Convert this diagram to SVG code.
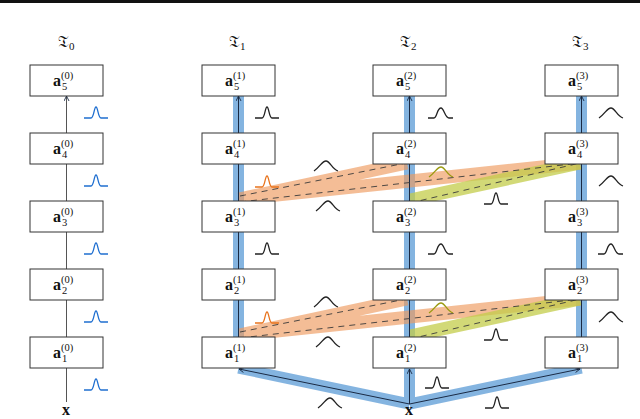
<svg xmlns="http://www.w3.org/2000/svg" width="640" height="419" viewBox="0 0 640 419">
<style>
.box{fill:#fff;stroke:#333;stroke-width:1}
.t{font-family:"Liberation Serif","DejaVu Serif",serif;fill:#111}
.a{font-size:16px;font-weight:bold}
.sup{font-size:10.5px}
.ln{stroke:#1a2a44;stroke-width:1;fill:none}
.ln0{stroke:#555;stroke-width:1;fill:none}
.bb{stroke:#5b9bd5;stroke-opacity:0.75;stroke-width:11;fill:none}
.ob{stroke:#ee9a5e;stroke-opacity:0.65;stroke-width:13;fill:none}
.gb{stroke:#c3cc4a;stroke-opacity:0.75;stroke-width:13;fill:none}
.dash{stroke:#3a3a3a;stroke-width:0.9;stroke-dasharray:6,5;fill:none}
.g{fill:none;stroke-width:1.3}
.gk{stroke:#222}.gB{stroke:#1f6fd0}.gO{stroke:#e8741e}.gY{stroke:#9a9a10}
</style>
<defs>
<marker id="ar" viewBox="0 0 6 6" refX="5.5" refY="3" markerWidth="6" markerHeight="6" orient="auto"><path d="M0.5,0.5 L5.5,3 L0.5,5.5" fill="none" stroke="#1a2a44" stroke-width="0.9"/></marker>
<path id="nar" d="M-12,0 L-5,0 C-2,0 -2,-11 0,-11 C2,-11 2,0 5,0 L12,0"/>
<path id="med" d="M-12,0 L-6,0 C-3,0 -3,-10 1,-10 C4,-10 5,0 9,0 L13,0"/>
<path id="wid" d="M-12,0 C-6,-4 -4,-10 0,-10 C4,-10 6,-2 12,0"/>
</defs>
<rect x="0" y="0" width="640" height="3" fill="#111"/>
<g class="t" font-size="16">
<text x="58" y="47">𝔗<tspan font-size="11" dy="3">0</tspan></text>
<text x="229" y="47">𝔗<tspan font-size="11" dy="3">1</tspan></text>
<text x="400" y="47">𝔗<tspan font-size="11" dy="3">2</tspan></text>
<text x="572" y="47">𝔗<tspan font-size="11" dy="3">3</tspan></text>
</g>
<g id="bands">
<path class="bb" d="M238.5,96V133M238.5,164V201M238.5,232V269M238.5,300V337"/>
<path class="bb" d="M409.5,96V133M409.5,164V201M409.5,232V269M409.5,300V337"/>
<path class="bb" d="M581.5,96V133M581.5,164V201M581.5,232V269M581.5,300V337"/>
<path class="bb" d="M409.5,404V368M409.5,404L238.5,368M409.5,404L581.5,368"/>
<path class="ob" d="M239,199L407,163M239,199L580,163M239,335L407,299M239,335L580,299"/>
<path class="gb" d="M410,200L580,163M410,336L580,299"/>
</g>
<g id="connectors">
<path class="ln0" marker-end="url(#ar)" d="M66.5,402V368M66.5,337V300M66.5,269V232M66.5,201V164M66.5,133V96"/>
<path class="ln" marker-end="url(#ar)" d="M238.5,337V300M238.5,269V232M238.5,201V164M238.5,133V96"/>
<path class="ln" marker-end="url(#ar)" d="M409.5,337V300M409.5,269V232M409.5,201V164M409.5,133V96"/>
<path class="ln" marker-end="url(#ar)" d="M581.5,337V300M581.5,269V232M581.5,201V164M581.5,133V96"/>
<path class="ln" marker-end="url(#ar)" d="M409.5,404V369"/>
<path class="ln" marker-end="url(#ar)" d="M409.5,404L239,369"/>
<path class="ln" marker-end="url(#ar)" d="M409.5,404L580,369"/>
<path class="dash" d="M240,196L406,163M240,202L580,163M410,203L580,163M240,332L406,299M240,338L580,299M410,339L580,299"/>
</g>
<g id="col0">
<g id="n0_5"><rect class="box" x="30" y="65" width="73" height="31"/><text class="t" x="53" y="86"><tspan class="a">a</tspan><tspan class="sup" dy="-7">(0)</tspan><tspan class="sup" x="62" dy="11">5</tspan></text></g>
<g id="n0_4"><rect class="box" x="30" y="133" width="73" height="31"/><text class="t" x="53" y="154"><tspan class="a">a</tspan><tspan class="sup" dy="-7">(0)</tspan><tspan class="sup" x="62" dy="11">4</tspan></text></g>
<g id="n0_3"><rect class="box" x="30" y="201" width="73" height="31"/><text class="t" x="53" y="222"><tspan class="a">a</tspan><tspan class="sup" dy="-7">(0)</tspan><tspan class="sup" x="62" dy="11">3</tspan></text></g>
<g id="n0_2"><rect class="box" x="30" y="269" width="73" height="31"/><text class="t" x="53" y="290"><tspan class="a">a</tspan><tspan class="sup" dy="-7">(0)</tspan><tspan class="sup" x="62" dy="11">2</tspan></text></g>
<g id="n0_1"><rect class="box" x="30" y="337" width="73" height="31"/><text class="t" x="53" y="358"><tspan class="a">a</tspan><tspan class="sup" dy="-7">(0)</tspan><tspan class="sup" x="62" dy="11">1</tspan></text></g>
<g id="x0"><text class="t a" x="62" y="415">x</text></g>
</g>
<g id="col1">
<g id="n1_5"><rect class="box" x="202" y="65" width="73" height="31"/><text class="t" x="225" y="86"><tspan class="a">a</tspan><tspan class="sup" dy="-7">(1)</tspan><tspan class="sup" x="234" dy="11">5</tspan></text></g>
<g id="n1_4"><rect class="box" x="202" y="133" width="73" height="31"/><text class="t" x="225" y="154"><tspan class="a">a</tspan><tspan class="sup" dy="-7">(1)</tspan><tspan class="sup" x="234" dy="11">4</tspan></text></g>
<g id="n1_3"><rect class="box" x="202" y="201" width="73" height="31"/><text class="t" x="225" y="222"><tspan class="a">a</tspan><tspan class="sup" dy="-7">(1)</tspan><tspan class="sup" x="234" dy="11">3</tspan></text></g>
<g id="n1_2"><rect class="box" x="202" y="269" width="73" height="31"/><text class="t" x="225" y="290"><tspan class="a">a</tspan><tspan class="sup" dy="-7">(1)</tspan><tspan class="sup" x="234" dy="11">2</tspan></text></g>
<g id="n1_1"><rect class="box" x="202" y="337" width="73" height="31"/><text class="t" x="225" y="358"><tspan class="a">a</tspan><tspan class="sup" dy="-7">(1)</tspan><tspan class="sup" x="234" dy="11">1</tspan></text></g>
</g>
<g id="col2">
<g id="n2_5"><rect class="box" x="373" y="65" width="73" height="31"/><text class="t" x="396" y="86"><tspan class="a">a</tspan><tspan class="sup" dy="-7">(2)</tspan><tspan class="sup" x="405" dy="11">5</tspan></text></g>
<g id="n2_4"><rect class="box" x="373" y="133" width="73" height="31"/><text class="t" x="396" y="154"><tspan class="a">a</tspan><tspan class="sup" dy="-7">(2)</tspan><tspan class="sup" x="405" dy="11">4</tspan></text></g>
<g id="n2_3"><rect class="box" x="373" y="201" width="73" height="31"/><text class="t" x="396" y="222"><tspan class="a">a</tspan><tspan class="sup" dy="-7">(2)</tspan><tspan class="sup" x="405" dy="11">3</tspan></text></g>
<g id="n2_2"><rect class="box" x="373" y="269" width="73" height="31"/><text class="t" x="396" y="290"><tspan class="a">a</tspan><tspan class="sup" dy="-7">(2)</tspan><tspan class="sup" x="405" dy="11">2</tspan></text></g>
<g id="n2_1"><rect class="box" x="373" y="337" width="73" height="31"/><text class="t" x="396" y="358"><tspan class="a">a</tspan><tspan class="sup" dy="-7">(2)</tspan><tspan class="sup" x="405" dy="11">1</tspan></text></g>
<g id="x"><text class="t a" x="405" y="415">x</text></g>
</g>
<g id="col3">
<g id="n3_5"><rect class="box" x="545" y="65" width="73" height="31"/><text class="t" x="568" y="86"><tspan class="a">a</tspan><tspan class="sup" dy="-7">(3)</tspan><tspan class="sup" x="577" dy="11">5</tspan></text></g>
<g id="n3_4"><rect class="box" x="545" y="133" width="73" height="31"/><text class="t" x="568" y="154"><tspan class="a">a</tspan><tspan class="sup" dy="-7">(3)</tspan><tspan class="sup" x="577" dy="11">4</tspan></text></g>
<g id="n3_3"><rect class="box" x="545" y="201" width="73" height="31"/><text class="t" x="568" y="222"><tspan class="a">a</tspan><tspan class="sup" dy="-7">(3)</tspan><tspan class="sup" x="577" dy="11">3</tspan></text></g>
<g id="n3_2"><rect class="box" x="545" y="269" width="73" height="31"/><text class="t" x="568" y="290"><tspan class="a">a</tspan><tspan class="sup" dy="-7">(3)</tspan><tspan class="sup" x="577" dy="11">2</tspan></text></g>
<g id="n3_1"><rect class="box" x="545" y="337" width="73" height="31"/><text class="t" x="568" y="358"><tspan class="a">a</tspan><tspan class="sup" dy="-7">(3)</tspan><tspan class="sup" x="577" dy="11">1</tspan></text></g>
</g>
<g id="gaussians">
<use href="#nar" class="g gB" x="96" y="118"/><use href="#nar" class="g gB" x="96" y="186"/><use href="#nar" class="g gB" x="96" y="254"/><use href="#nar" class="g gB" x="96" y="322"/><use href="#nar" class="g gB" x="96" y="390"/>
<use href="#nar" class="g gk" x="267" y="118"/><use href="#nar" class="g gO" x="267" y="187"/><use href="#nar" class="g gk" x="267" y="254"/><use href="#nar" class="g gO" x="267" y="323"/>
<use href="#wid" class="g gk" x="326" y="171"/><use href="#wid" class="g gk" x="328" y="211"/><use href="#wid" class="g gk" x="326" y="307"/><use href="#wid" class="g gk" x="328" y="347"/><use href="#wid" class="g gk" x="330" y="408"/>
<use href="#med" class="g gk" x="440" y="118"/><use href="#wid" class="g gY" x="441" y="177"/><use href="#nar" class="g gk" x="496" y="204"/><use href="#med" class="g gk" x="440" y="254"/><use href="#wid" class="g gY" x="441" y="313"/><use href="#nar" class="g gk" x="496" y="340"/><use href="#nar" class="g gk" x="437" y="388"/><use href="#nar" class="g gk" x="497" y="408"/>
<use href="#wid" class="g gk" x="611" y="118"/><use href="#wid" class="g gk" x="611" y="186"/><use href="#med" class="g gk" x="610" y="254"/><use href="#wid" class="g gk" x="611" y="322"/>
</g>
</svg>
